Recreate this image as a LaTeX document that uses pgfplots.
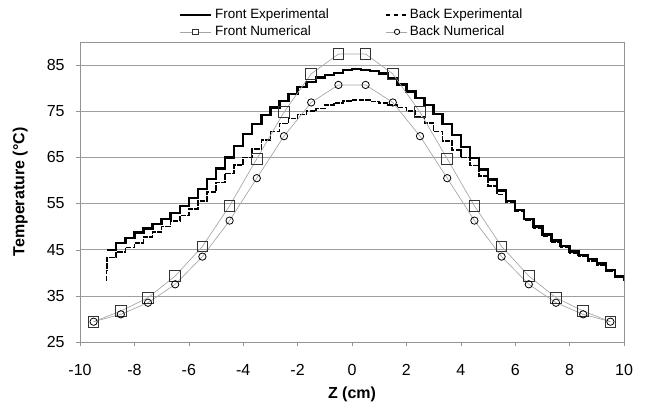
\documentclass[border=0pt]{standalone}
\usepackage{fontspec}
\setmainfont{Liberation Sans}
\usepackage{pgfplots}
\pgfplotsset{compat=1.18}

\begin{document}
\begin{tikzpicture}
\useasboundingbox (-60pt,-50.25pt) rectangle (427.5pt,256.5pt);
\begin{axis}[
    at={(0,0)}, anchor=south west,
    scale only axis, width=408pt, height=225pt,
    xmin=-10, xmax=10, ymin=25, ymax=90,
    xtick={-10,-8,...,10}, ytick={25,35,...,85},
    ymajorgrids, grid style={gray!75, line width=0.5pt},
    axis line style={gray!85},
    tick align=outside, major tick length=3pt, tick style={gray!85},
    xtick pos=bottom, ytick pos=left,
    /pgf/number format/assume math mode=true,
    ticklabel style={font=\fontsize{12}{14}\selectfont},
    xticklabel style={anchor=center, yshift=-18pt},
    yticklabel style={anchor=east, xshift=-5pt},
    xlabel={Z (cm)}, ylabel={Temperature (°C)},
    label style={font=\bfseries\fontsize{12}{14}\selectfont},
    xlabel style={at={(axis description cs:0.5,-0.173)}, anchor=center},
    ylabel style={at={(axis description cs:-0.11,0.5)}, anchor=center},
    legend columns=2,
    legend cell align=left,
    legend style={at={(axis description cs:0.5,1)}, anchor=south, yshift=-1pt,
        draw=none, fill=none, font=\fontsize{10.1}{11}\selectfont,
        /tikz/every even column/.append style={column sep=40pt}},
]
% Front Experimental
\addplot[black, line width=1.7pt, const plot,
    legend image code/.code={\draw[black, line width=1.7pt] (0cm,0cm) -- (0.82cm,0cm);}]
coordinates {
(-9.0,45.0)(-8.67,46.5)(-8.33,47.5)(-8.0,48.7)(-7.67,49.6)(-7.33,50.6)(-7.0,51.7)
(-6.67,53.0)(-6.33,54.5)(-6.0,56.2)(-5.67,58.2)(-5.33,60.3)(-5.0,62.6)(-4.67,65.0)
(-4.33,67.5)(-4.0,70.0)(-3.67,72.2)(-3.33,74.2)(-3.0,75.8)(-2.67,77.2)(-2.33,78.7)
(-2.0,80.2)(-1.67,81.4)(-1.33,82.3)(-1.0,82.9)(-0.67,83.3)(-0.33,83.9)(0,84.2)
(0.33,84.0)(0.67,83.7)(1.0,83.2)(1.33,82.2)(1.67,80.8)(2.0,79.3)(2.33,77.8)
(2.67,76.4)(3.0,74.4)(3.33,72.2)(3.67,69.8)(4.0,67.3)(4.33,64.8)(4.67,62.4)
(5.0,60.2)(5.33,57.8)(5.67,55.6)(6.0,53.6)(6.33,51.7)(6.67,50.0)(7.0,48.3)
(7.33,47.0)(7.67,45.8)(8.0,44.6)(8.33,43.8)(8.67,43.0)(9.0,42.0)(9.33,40.6)
(9.67,39.2)(10.0,38.2)
};
\addlegendentry{Front Experimental}
% Back Experimental
\addplot[black, line width=1.2pt, dash pattern=on 4pt off 1pt, const plot,
    legend image code/.code={\draw[black, line width=1.2pt, dash pattern=on 3pt off 3pt] (0cm,0cm) -- (0.55cm,0cm);}]
coordinates {
(-9.05,38.3)(-9.03,40.5)(-9.0,43.3)(-8.67,44.5)(-8.33,45.5)(-8.0,46.5)(-7.67,47.7)
(-7.33,48.8)(-7.0,50.0)(-6.67,51.2)(-6.33,52.4)(-6.0,53.8)(-5.67,55.5)(-5.33,57.5)
(-5.0,59.6)(-4.67,61.5)(-4.33,63.3)(-4.0,65.0)(-3.67,66.8)(-3.33,68.8)(-3.0,70.6)
(-2.67,72.3)(-2.33,73.4)(-2.0,74.3)(-1.67,75.0)(-1.33,75.6)(-1.0,76.3)(-0.67,76.8)
(-0.33,77.2)(0,77.4)(0.33,77.4)(0.67,77.1)(1.0,76.8)(1.33,76.4)(1.67,75.8)
(2.0,75.0)(2.33,73.8)(2.67,72.4)(3.0,70.6)(3.33,68.6)(3.67,66.6)(4.0,65.0)
(4.33,63.2)(4.67,61.0)(5.0,58.8)(5.33,57.0)(5.67,55.2)(6.0,53.3)(6.33,51.4)
(6.67,49.7)(7.0,48.0)(7.33,46.7)(7.67,45.5)(8.0,44.3)(8.33,43.5)(8.67,42.6)
(9.0,41.6)(9.33,40.3)(9.67,39.0)
};
\addlegendentry{Back Experimental}
% Front Numerical
\addplot[gray!70, line width=0.5pt, mark=square, mark size=4pt,
    mark options={draw=black!80, line width=0.7pt, solid},
    legend image code/.code={
        \draw[gray!70, line width=0.5pt] (0cm,0cm) -- (0.82cm,0cm);
        \draw[black!80, line width=0.6pt, fill=white] (0.41cm,0cm) +(-2.2pt,-2.2pt) rectangle +(2.2pt,2.2pt);}]
coordinates {
(-9.5,29.4)(-8.5,31.7)(-7.5,34.6)(-6.5,39.3)(-5.5,45.7)(-4.5,54.5)(-3.5,64.7)
(-2.5,74.8)(-1.5,83.1)(-0.5,87.4)(0.5,87.4)(1.5,83.1)(2.5,74.8)(3.5,64.7)
(4.5,54.5)(5.5,45.7)(6.5,39.3)(7.5,34.6)(8.5,31.7)(9.5,29.4)
};
\addlegendentry{Front Numerical}
% Back Numerical
\addplot[gray!70, line width=0.5pt, mark=o, mark size=2.75pt,
    mark options={draw=black, line width=0.6pt, solid},
    legend image code/.code={
        \draw[gray!70, line width=0.5pt] (0cm,0cm) -- (0.55cm,0cm);
        \draw[black, line width=0.6pt, fill=white] (0.3cm,0cm) circle (2pt);}]
coordinates {
(-9.5,29.4)(-8.5,31.0)(-7.5,33.5)(-6.5,37.5)(-5.5,43.5)(-4.5,51.3)(-3.5,60.5)
(-2.5,69.6)(-1.5,76.9)(-0.5,80.7)(0.5,80.7)(1.5,76.9)(2.5,69.6)(3.5,60.5)
(4.5,51.3)(5.5,43.5)(6.5,37.5)(7.5,33.5)(8.5,31.0)(9.5,29.4)
};
\addlegendentry{Back Numerical}
\end{axis}
\end{tikzpicture}
\end{document}
